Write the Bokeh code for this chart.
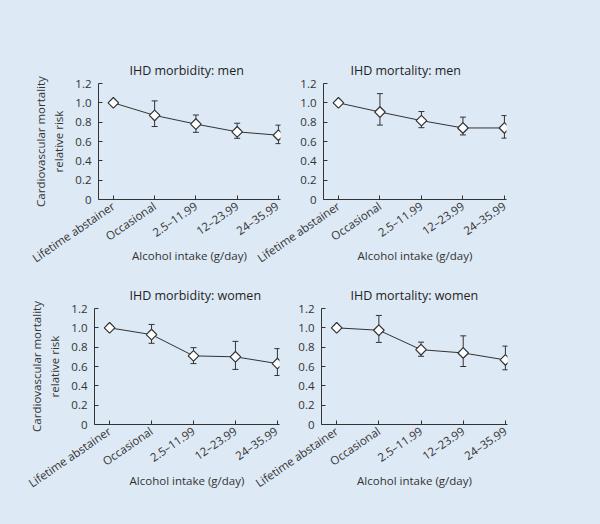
from bokeh.plotting import figure
from bokeh.models import ColumnDataSource, Whisker, TeeHead, FixedTicker, Range1d
from bokeh.layouts import row, column
from bokeh.embed import file_html
from bokeh.resources import INLINE
import numpy as np

# ---- data ----
categories = ["Lifetime abstainer", "Occasional", "2.5–11.99", "12–23.99", "24–35.99"]
x_pos = [0, 1, 2, 3, 4]
y_ticks = [0, 0.2, 0.4, 0.6, 0.8, 1.0, 1.2]
y_tick_labels = ["0", "0.2", "0.4", "0.6", "0.8", "1.0", "1.2"]

morb_men_rr = [1.0, 0.87, 0.78, 0.70, 0.665]
morb_men_lo = [1.0, 0.755, 0.695, 0.633, 0.578]
morb_men_hi = [1.0, 1.02, 0.874, 0.789, 0.769]

mort_men_rr = [1.0, 0.905, 0.816, 0.74, 0.74]
mort_men_lo = [1.0, 0.77, 0.743, 0.668, 0.635]
mort_men_hi = [1.0, 1.095, 0.91, 0.852, 0.868]

morb_women_rr = [1.0, 0.93, 0.71, 0.70, 0.63]
morb_women_lo = [1.0, 0.84, 0.63, 0.57, 0.507]
morb_women_hi = [1.0, 1.035, 0.795, 0.86, 0.785]

mort_women_rr = [1.0, 0.975, 0.774, 0.74, 0.668]
mort_women_lo = [1.0, 0.849, 0.706, 0.60, 0.566]
mort_women_hi = [1.0, 1.128, 0.852, 0.917, 0.811]

titles = ["IHD morbidity: men", "IHD mortality: men", "IHD morbidity: women", "IHD mortality: women"]
x_label = "Alcohol intake (g/day)"
y_label = "Cardiovascular mortality\nrelative risk"

BG = "#dde9f5"
INK = "#333333"
FONT = "Open Sans"


def make(title, rr, lo, hi, ylabel, w, h, mbl, mbr, mbt, mbb, toff):
    p = figure(width=w, height=h, output_backend="svg", toolbar_location=None,
               x_range=Range1d(-0.36, 4.05), y_range=Range1d(0, 1.2),
               min_border_left=mbl, min_border_right=mbr,
               min_border_top=mbt, min_border_bottom=mbb,
               background_fill_color=BG, border_fill_alpha=0,
               outline_line_color=None)
    p.title.text = title
    p.title.align = "left"
    p.title.offset = toff
    p.title.text_font = FONT
    p.title.text_font_size = "12.5px"
    p.title.text_font_style = "normal"
    p.title.text_color = "#1f1f1f"
    p.title.standoff = 10

    p.xgrid.visible = False
    p.ygrid.visible = False

    for ax in (p.xaxis[0], p.yaxis[0]):
        ax.axis_line_color = INK
        ax.major_tick_line_color = INK
        ax.major_tick_in = 4
        ax.major_tick_out = 0
        ax.minor_tick_line_color = None
        ax.major_label_text_font = FONT
        ax.major_label_text_font_size = "11.5px"
        ax.major_label_text_color = INK
        ax.axis_label_text_font = FONT
        ax.axis_label_text_font_size = "11.5px"
        ax.axis_label_text_font_style = "normal"
        ax.axis_label_text_color = INK

    xa = p.xaxis[0]
    xa.ticker = FixedTicker(ticks=x_pos)
    xa.major_label_overrides = {x: c for x, c in zip(x_pos, categories)}
    xa.major_label_orientation = 0.6
    xa.major_label_standoff = 5
    xa.axis_label = x_label
    xa.axis_label_standoff = -27

    ya = p.yaxis[0]
    ya.ticker = FixedTicker(ticks=y_ticks)
    ya.major_label_overrides = {t: s for t, s in zip(y_ticks, y_tick_labels)}
    ya.major_label_standoff = 7
    if ylabel:
        ya.axis_label = ylabel
        ya.axis_label_standoff = 6

    src = ColumnDataSource(dict(x=x_pos, rr=rr))
    err = ColumnDataSource(dict(x=x_pos[1:], lo=lo[1:], hi=hi[1:]))
    wk = Whisker(base="x", lower="lo", upper="hi", source=err, level="underlay",
                 line_color=INK, line_width=1,
                 upper_head=TeeHead(size=6, line_color=INK, line_width=1),
                 lower_head=TeeHead(size=6, line_color=INK, line_width=1))
    p.add_layout(wk)
    p.line("x", "rr", source=src, line_color=INK, line_width=1)
    p.scatter("x", "rr", source=src, marker="square", angle=np.pi / 4, size=7.5,
              fill_color="white", line_color=INK, line_width=1.2)
    return p


p1 = make(titles[0], morb_men_rr, morb_men_lo, morb_men_hi, y_label,
          281, 270, 98, 1, 83, 70, 31)
p2 = make(titles[1], mort_men_rr, mort_men_lo, mort_men_hi, None,
          359, 270, 82, 94, 78, 71, 27)
p3 = make(titles[2], morb_women_rr, morb_women_lo, morb_women_hi, y_label,
          280, 254, 94, 1, 38, 99, 35)
p4 = make(titles[3], mort_women_rr, mort_women_lo, mort_women_hi, None,
          360, 254, 81, 93, 37, 100, 29)
p2.styles = {"margin-left": "-40px"}
p4.styles = {"margin-left": "-40px"}

layout = column(row(p1, p2), row(p3, p4), styles={"background-color": BG})

open("out.html", "w").write(file_html(layout, INLINE))
